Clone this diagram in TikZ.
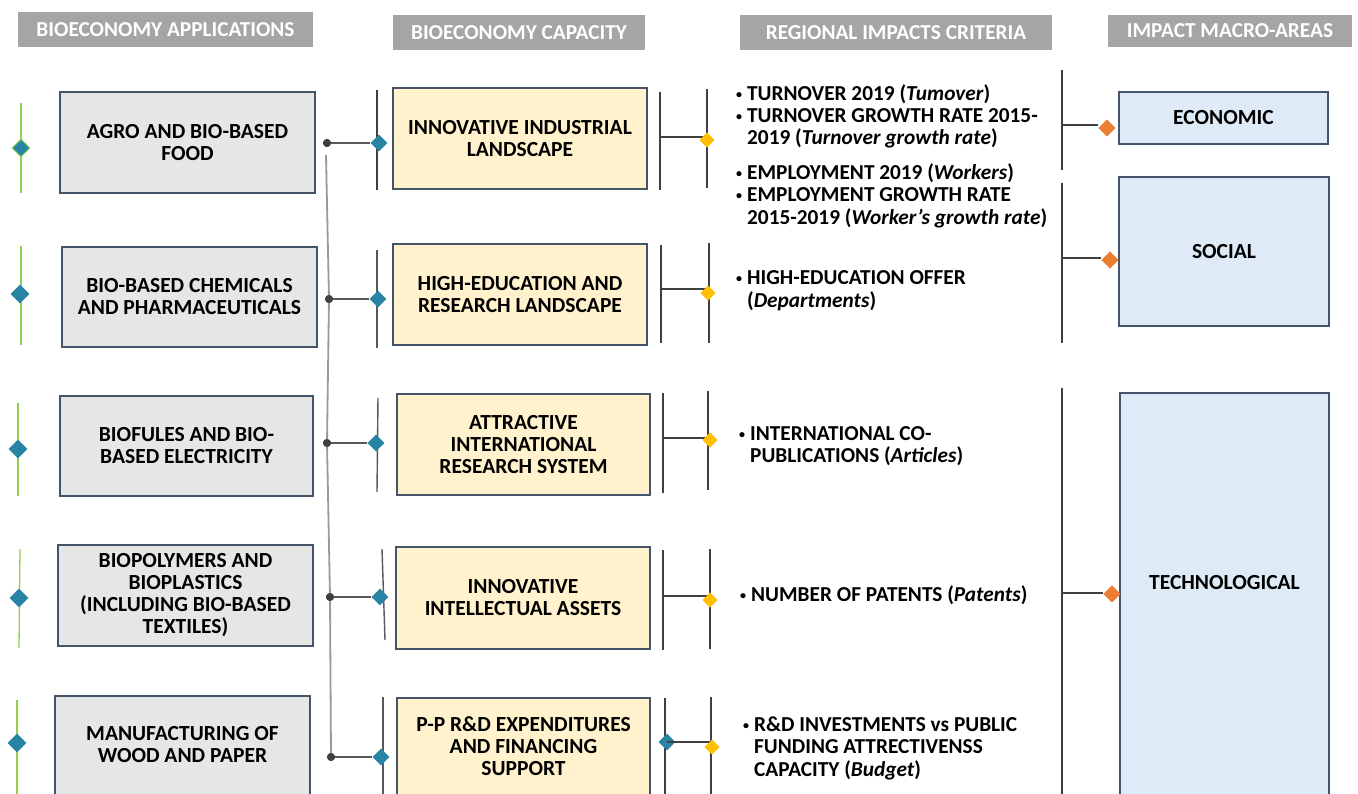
\documentclass[tikz,border=0pt]{standalone}
\usepackage{fontspec}
\setmainfont{Carlito}
\usetikzlibrary{shapes.geometric}
\definecolor{hdrfill}{HTML}{A5A5A5}
\definecolor{appfill}{HTML}{E7E6E6}
\definecolor{capfill}{HTML}{FFF2CC}
\definecolor{macfill}{HTML}{DEEBF7}
\definecolor{edgecol}{HTML}{44546A}
\definecolor{darkline}{HTML}{404040}
\definecolor{midline}{HTML}{595959}
\definecolor{lightline}{HTML}{999999}
\definecolor{tealc}{HTML}{2884A4}
\definecolor{yellowc}{HTML}{FFC000}
\definecolor{orangec}{HTML}{ED7D31}
\definecolor{greenc}{HTML}{92D050}
\newcommand\bxf{\fontsize{21.5}{22}\selectfont\bfseries}
\newcommand\crf{\fontsize{21.3}{22}\selectfont\bfseries}
\newcommand\hdf{\fontsize{21.3}{22}\selectfont\bfseries}
\newcommand\bul{\raisebox{2pt}{\fontsize{12}{12}\selectfont\textbullet}}
\tikzset{
  hdrbox/.style={fill=hdrfill, text=white, font=\hdf, inner sep=0pt, align=center},
  boxbase/.style={draw=edgecol, line width=2.2pt, inner sep=0pt, align=center, font=\bxf},
  appbox/.style={boxbase, fill=appfill},
  capbox/.style={boxbase, fill=capfill},
  macbox/.style={boxbase, fill=macfill},
  boxtext/.style={inner sep=0pt, align=center, font=\bxf},
  crit/.style={inner sep=0pt, anchor=west, font=\crf},
  dia/.style={diamond, aspect=1, inner sep=0pt},
  tealdia/.style={dia, fill=tealc, minimum width=17pt, minimum height=17pt},
  tealbig/.style={dia, fill=tealc, minimum width=19pt, minimum height=19pt},
  yeldia/.style={dia, fill=yellowc, minimum width=15pt, minimum height=15pt},
  orgdia/.style={dia, fill=orangec, minimum width=17pt, minimum height=17pt},
  dot/.style={circle, fill=darkline, inner sep=0pt, minimum size=8pt},
  greenline/.style={draw=greenc, line width=1.3pt},
  darkbar/.style={draw=darkline, line width=1.8pt},
  thinbar/.style={draw=midline, line width=1.4pt},
  conn/.style={draw=midline, line width=1.5pt},
  trunk/.style={draw=lightline, line width=1.8pt}
}
\begin{document}
\begin{tikzpicture}[x=1pt,y=-1pt]
\useasboundingbox (0,0) rectangle (1358,794);
\fill[white] (0,0) rectangle (1358,794);

% headers
\node[hdrbox, minimum width=295, minimum height=35] (h1) at (165.5,29.5) {BIOECONOMY APPLICATIONS};
\node[hdrbox, minimum width=252, minimum height=35] (h2) at (519,32.5) {BIOECONOMY CAPACITY};
\node[hdrbox, minimum width=312, minimum height=35] (h3) at (896,32.5) {REGIONAL IMPACTS CRITERIA};
\node[hdrbox, minimum width=244, minimum height=32] (h4) at (1230,31) {IMPACT MACRO-AREAS};

% column 1 boxes
\node[appbox, minimum width=255, minimum height=101] (a1) at (187.5,142.5) {AGRO AND BIO-BASED\\FOOD};
\node[appbox, minimum width=255, minimum height=100] (a2) at (189.5,297) {BIO-BASED CHEMICALS\\AND PHARMACEUTICALS};
\node[appbox, minimum width=253, minimum height=100] (a3) at (186.5,446) {BIOFULES AND BIO-\\BASED ELECTRICITY};
\node[appbox, minimum width=255, minimum height=101] (a4) at (185.5,595.5) {BIOPOLYMERS AND\\BIOPLASTICS\\(INCLUDING BIO-BASED\\TEXTILES)};
\node[appbox, minimum width=255, minimum height=106] (a5) at (182.5,749) {};
\node[boxtext] (a5t) at (182.5,744.5) {MANUFACTURING OF\\WOOD AND PAPER};

% column 2 boxes
\node[capbox, minimum width=254, minimum height=101] (b1) at (520,138.5) {INNOVATIVE INDUSTRIAL\\LANDSCAPE};
\node[capbox, minimum width=254, minimum height=101] (b2) at (520,294.5) {HIGH-EDUCATION AND\\RESEARCH LANDSCAPE};
\node[capbox, minimum width=253, minimum height=101] (b3) at (523.5,444.5) {ATTRACTIVE\\INTERNATIONAL\\RESEARCH SYSTEM};
\node[capbox, minimum width=254, minimum height=102] (b4) at (523,598) {INNOVATIVE\\INTELLECTUAL ASSETS};
\node[capbox, minimum width=253, minimum height=106] (b5) at (523.5,751) {};
\node[boxtext] (b5t) at (523.5,746) {P-P R\&D EXPENDITURES\\AND FINANCING\\SUPPORT};

% column 4 boxes
\node[macbox, minimum width=209, minimum height=52] (m1) at (1223.5,118) {ECONOMIC};
\node[macbox, minimum width=210, minimum height=149] (m2) at (1224,251.5) {SOCIAL};
\node[macbox, minimum width=209, minimum height=411] (m3) at (1224.5,598.5) {};
\node[boxtext] (m3t) at (1224.5,583) {TECHNOLOGICAL};

% criteria texts
\node[crit] (c1) at (736,118) {\begin{tabular}{@{}l@{\hspace{5pt}}l@{}}\bul & TURNOVER 2019 (\textit{Tumover})\\ \bul & TURNOVER GROWTH RATE 2015-\\ & 2019 (\textit{Turnover growth rate})\end{tabular}};
\node[crit] (c2) at (736,197.5) {\begin{tabular}{@{}l@{\hspace{5pt}}l@{}}\bul & EMPLOYMENT 2019 (\textit{Workers})\\ \bul & EMPLOYMENT GROWTH RATE\\ & 2015-2019 (\textit{Worker's growth rate})\end{tabular}};
\node[crit] (c3) at (736,291.5) {\begin{tabular}{@{}l@{\hspace{5pt}}l@{}}\bul & HIGH-EDUCATION OFFER\\ & (\textit{Departments})\end{tabular}};
\node[crit] (c4) at (739,447) {\begin{tabular}{@{}l@{\hspace{5pt}}l@{}}\bul & INTERNATIONAL CO-\\ & PUBLICATIONS (\textit{Articles})\end{tabular}};
\node[crit] (c5) at (740,597) {\begin{tabular}{@{}l@{\hspace{5pt}}l@{}}\bul & NUMBER OF PATENTS (\textit{Patents})\end{tabular}};
\node[crit] (c6) at (743,749.5) {\begin{tabular}{@{}l@{\hspace{5pt}}l@{}}\bul & R\&D INVESTMENTS vs PUBLIC\\ & FUNDING ATTRECTIVENSS\\ & CAPACITY (\textit{Budget})\end{tabular}};

% left green markers
\coordinate (g1t) at (21,103); \coordinate (g1b) at (21,193);
\coordinate (g2t) at (21,246); \coordinate (g2b) at (21,345);
\coordinate (g3t) at (18,403); \coordinate (g3b) at (18,496);
\coordinate (g4t) at (20,549); \coordinate (g4b) at (19,648);
\coordinate (g5t) at (17,700); \coordinate (g5b) at (17,794);
\foreach \i in {1,...,5} {\draw[greenline] (g\i t) -- (g\i b);}
\node[tealbig, draw=greenc, line width=1pt, minimum width=18pt, minimum height=18pt] (gd1) at (21,148) {};
\node[tealbig] (gd2) at (20,294) {};
\node[tealbig] (gd3) at (18,449) {};
\node[tealbig] (gd4) at (19,598) {};
\node[tealbig] (gd5) at (17,743) {};

% trunk and dots
\node[dot] (d1) at (327,143) {};
\node[dot] (d2) at (329,299) {};
\node[dot] (d3) at (327,443) {};
\node[dot] (d4) at (330,597) {};
\node[dot] (d5) at (331,757) {};
\coordinate (tr0) at (326,155);
\draw[trunk] (tr0) -- (d2.center) -- (d3.center) -- (d4.center) -- (d5.center);

% column 2 left bars
\coordinate (l1t) at (377,90);  \coordinate (l1b) at (377,190);
\coordinate (l2t) at (377,250); \coordinate (l2b) at (377,348);
\coordinate (l3t) at (378,398); \coordinate (l3b) at (377,492);
\coordinate (l4t) at (382,549); \coordinate (l4b) at (385,640);
\coordinate (l5t) at (383,697); \coordinate (l5b) at (383,794);
\draw[darkbar] (l1t) -- (l1b);
\foreach \i in {2,...,5} {\draw[thinbar] (l\i t) -- (l\i b);}
\node[tealdia] (t1) at (379,143) {};
\node[tealdia] (t2) at (378,299) {};
\node[tealdia] (t3) at (376,443) {};
\node[tealdia] (t4) at (380,597) {};
\node[tealdia] (t5) at (381,757) {};
\foreach \i in {1,...,5} {\draw[conn] (d\i) -- (t\i.west);}
\foreach \i in {1,...,5} {\node[dot] at (d\i) {};}

% column 2 right brackets
\coordinate (p1t) at (660,92);  \coordinate (p1b) at (660,190); \coordinate (p1m) at (660,137);
\coordinate (q1t) at (707,89);  \coordinate (q1b) at (707,188);
\coordinate (p2t) at (661,245); \coordinate (p2b) at (661,343); \coordinate (p2m) at (661,289);
\coordinate (q2t) at (709,243); \coordinate (q2b) at (709,343);
\coordinate (p3t) at (663,393); \coordinate (p3b) at (663,493); \coordinate (p3m) at (663,438);
\coordinate (q3t) at (708,391); \coordinate (q3b) at (708,490);
\coordinate (p4t) at (663,550); \coordinate (p4b) at (663,650); \coordinate (p4m) at (663,596);
\coordinate (q4t) at (710,549); \coordinate (q4b) at (710,649);
\coordinate (p5t) at (665,698); \coordinate (p5b) at (665,794); \coordinate (p5m) at (665,742);
\coordinate (q5t) at (711,697); \coordinate (q5b) at (711,794);
\foreach \i in {1,...,5} {\draw[darkbar] (p\i t) -- (p\i b); \draw[darkbar] (q\i t) -- (q\i b);}
\node[yeldia] (y1) at (707,140) {};
\node[yeldia] (y2) at (708,293) {};
\node[yeldia] (y3) at (710,440) {};
\node[yeldia] (y4) at (710,600) {};
\node[yeldia] (y5) at (712,747) {};
\draw[darkbar] (p1m) -- (y1.center |- p1m);
\draw[darkbar] (p2m) -- (y2.center |- p2m);
\draw[darkbar] (p3m) -- (y3.center |- p3m);
\draw[darkbar] (p4m) -- (y4.center |- p4m);
\node[tealdia] (t6) at (667,742) {};
\draw[darkbar] (t6.center) -- (y5.center |- t6);
\node[yeldia] at (y1) {};
\node[yeldia] at (y2) {};
\node[yeldia] at (y3) {};
\node[yeldia] at (y4) {};
\node[yeldia] at (y5) {};

% column 4 brackets
\coordinate (r1t) at (1062,70);  \coordinate (r1b) at (1062,170); \coordinate (r1m) at (1062,125);
\coordinate (r2t) at (1062,183); \coordinate (r2b) at (1062,343); \coordinate (r2m) at (1062,258);
\coordinate (r3t) at (1062,388); \coordinate (r3b) at (1062,794); \coordinate (r3m) at (1062,593);
\foreach \i in {1,2,3} {\draw[darkbar] (r\i t) -- (r\i b);}
\node[orgdia] (o1) at (1107,128) {};
\node[orgdia] (o2) at (1110,260) {};
\node[orgdia] (o3) at (1112,594) {};
\draw[darkbar] (r1m) -- (o1.west |- r1m);
\draw[darkbar] (r2m) -- (o2.west |- r2m);
\draw[darkbar] (r3m) -- (o3.west |- r3m);
\node[orgdia] at (o1) {};
\node[orgdia] at (o2) {};
\node[orgdia] at (o3) {};
\end{tikzpicture}
\end{document}
